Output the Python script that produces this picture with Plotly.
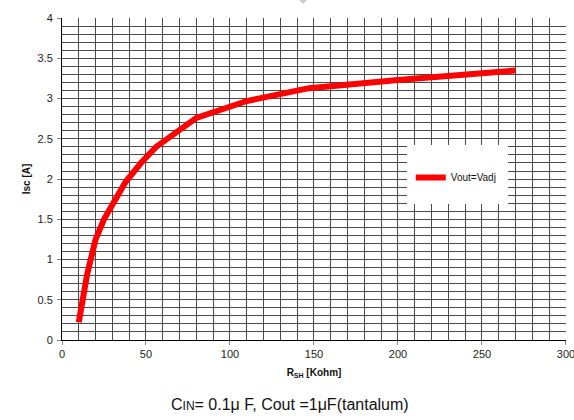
import plotly.graph_objects as go

# Short-circuit current vs. shunt resistance
rsh_kohm = [10, 15, 20, 25, 30, 38, 47, 56, 68, 80, 110, 147, 200, 270]
isc_amp = [0.22, 0.82, 1.25, 1.5, 1.68, 1.97, 2.2, 2.4, 2.58, 2.76, 2.97, 3.13, 3.23, 3.35]
series_name = "Vout=Vadj"

x_ticks = [0, 50, 100, 150, 200, 250, 300]
y_ticks = [0, 0.5, 1, 1.5, 2, 2.5, 3, 3.5, 4]

FONT = "Arial, Liberation Sans, sans-serif"
GRID = "#4a4a4a"

fig = go.Figure()
fig.add_trace(go.Scatter(
    x=rsh_kohm, y=isc_amp, mode="lines", name=series_name,
    line=dict(color="#ff0000", width=6),
))

fig.update_layout(
    width=574, height=420,
    margin=dict(l=62, r=8, t=18, b=80),
    paper_bgcolor="white", plot_bgcolor="white",
    font=dict(family=FONT, size=11, color="#222"),
    showlegend=True,
    legend=dict(
        x=0.692, y=0.505, xanchor="left", yanchor="middle",
        bgcolor="rgba(0,0,0,0)", borderwidth=0,
        font=dict(family=FONT, size=10, color="#111"),
        itemwidth=30,
    ),
    xaxis=dict(
        range=[0, 300.02], tickvals=x_ticks, ticktext=[str(v) for v in x_ticks],
        ticklabeloverflow="allow", automargin=False,
        showgrid=True, gridcolor=GRID, gridwidth=1,
        minor=dict(dtick=10, showgrid=True, gridcolor=GRID, gridwidth=1),
        showline=True, linecolor="#000", linewidth=1,
        ticks="outside", ticklen=4, tickcolor="#888",
        zeroline=False,
        title=dict(text="<b>R<sub>SH</sub> [Kohm]</b>", font=dict(family=FONT, size=10, color="#111"), standoff=9),
    ),
    yaxis=dict(
        range=[0, 4.002], tickvals=y_ticks, ticktext=[f"{v:g}" for v in y_ticks],
        automargin=False,
        showgrid=True, gridcolor=GRID, gridwidth=1,
        minor=dict(dtick=0.1, showgrid=True, gridcolor=GRID, gridwidth=1),
        showline=True, linecolor="#000", linewidth=1,
        ticks="outside", ticklen=4, tickcolor="#888",
        ticklabelstandoff=2,
        zeroline=False,
        title=dict(text="<b>Isc [A]</b>", font=dict(family=FONT, size=10, color="#111"), standoff=5),
    ),
    shapes=[
        # white panel behind the legend
        dict(type="rect", xref="paper", yref="paper",
             x0=(407 - 62) / 504, x1=(508 - 62) / 504,
             y0=(340 - 204) / 322, y1=(340 - 145) / 322,
             fillcolor="white", line=dict(width=0), layer="above"),
        # small marker at the top edge
        dict(type="path", xref="paper", yref="paper",
             path=f"M {(299 - 62) / 504} {340 / 322} L {(307 - 62) / 504} {340 / 322} L {(303 - 62) / 504} {(340 - 4) / 322} Z",
             fillcolor="#cccccc", line=dict(width=0)),
    ],
    annotations=[
        dict(xref="paper", yref="paper", x=(290 - 62) / 504, y=(340 - 404) / 322,
             xanchor="center", yanchor="middle", showarrow=False,
             text="C<span style='font-size:12px'>IN</span>= 0.1μ F, Cout =1μF(tantalum)",
             font=dict(family=FONT, size=16, color="#111")),
    ],
)

fig.write_html("out.html")
